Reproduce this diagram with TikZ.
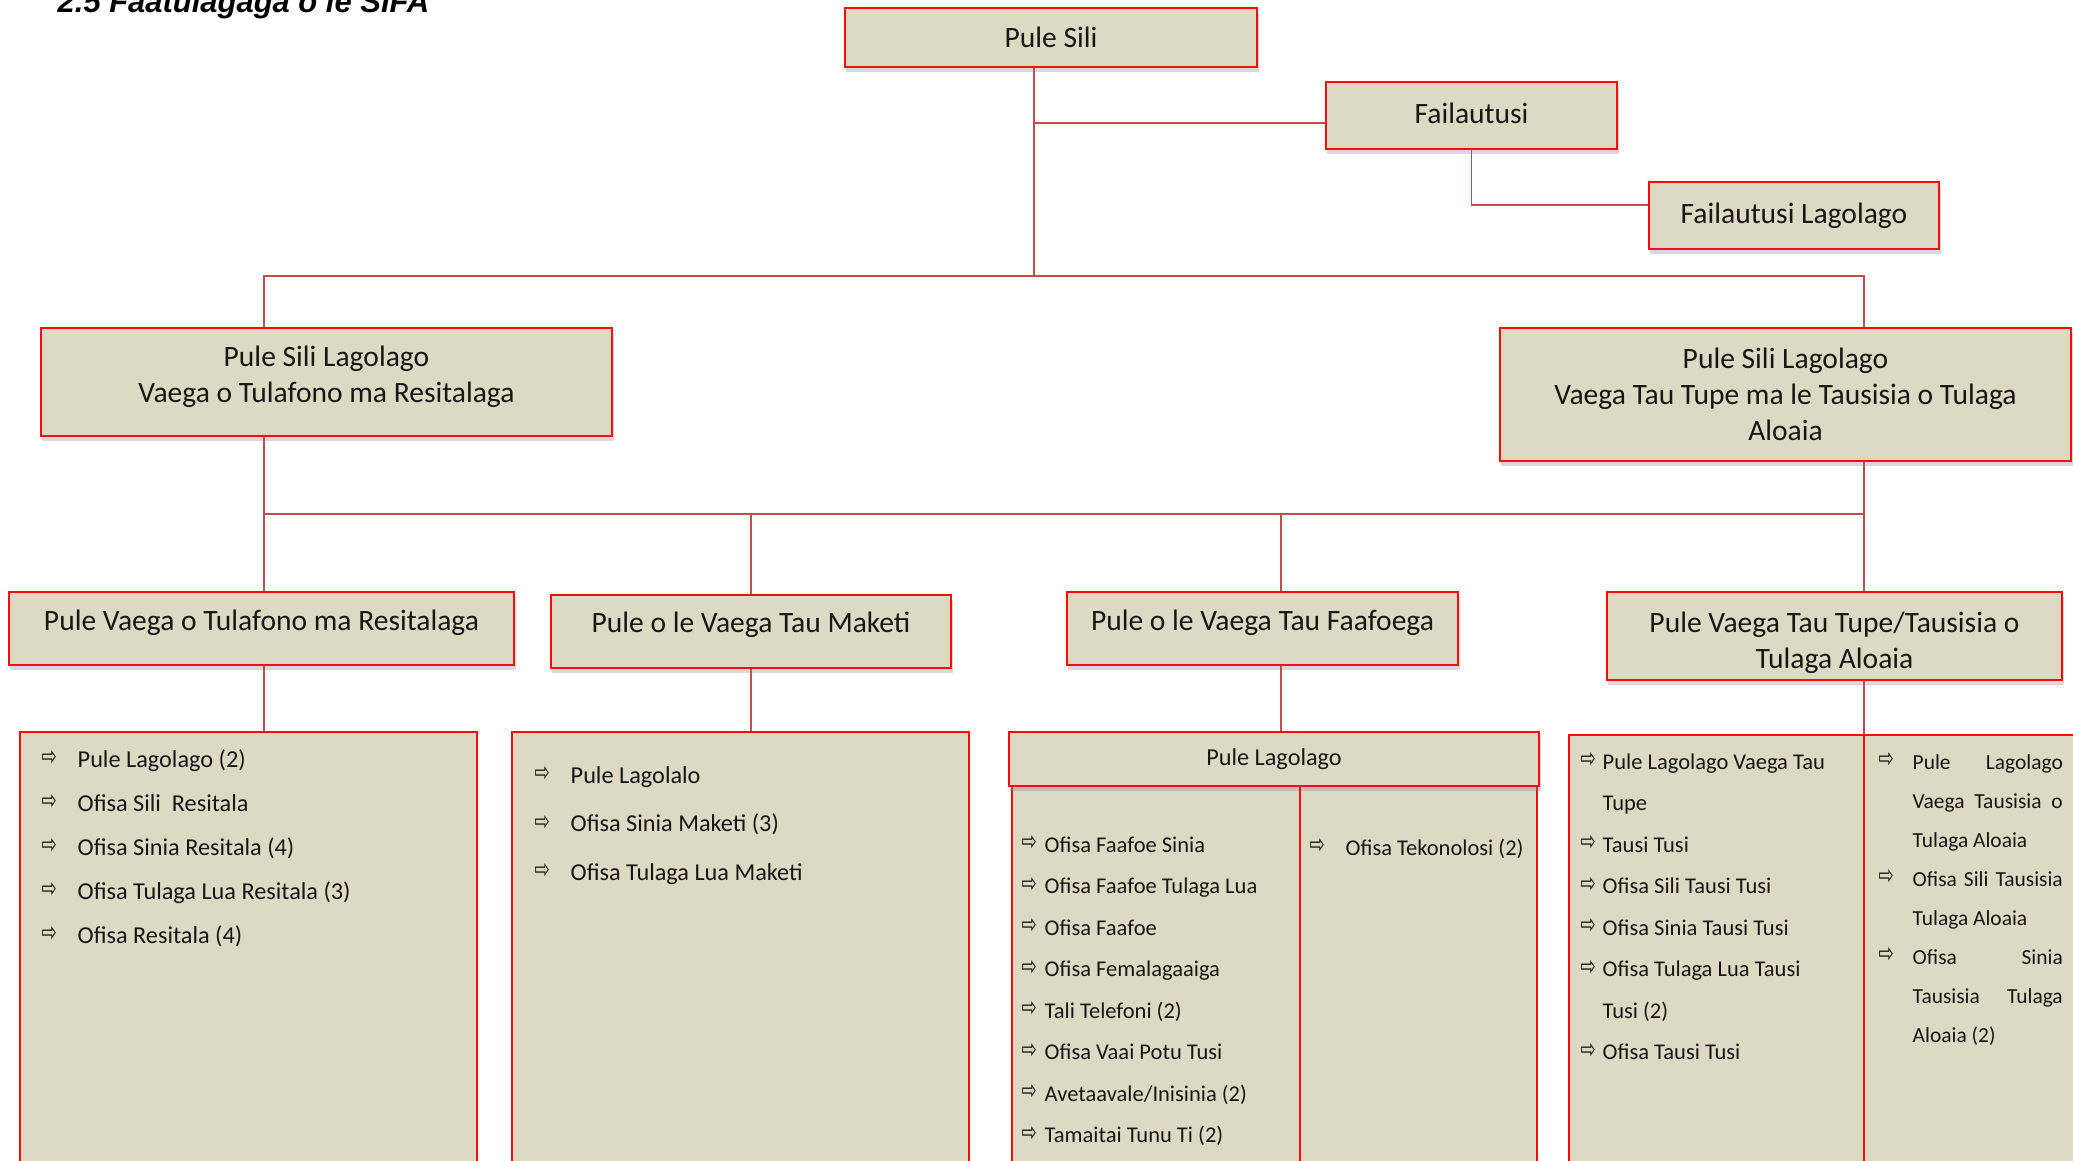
\documentclass[tikz,border=0pt]{standalone}
\usepackage{fontspec}
\usepackage{graphicx}
\setmainfont{Carlito}
\newfontfamily\arrowfont{DejaVu Sans}
\newfontfamily\headfont{Liberation Sans}
\usepackage{tikz}
\usetikzlibrary{positioning,calc,shadows}

\definecolor{boxfill}{RGB}{221,217,195}
\definecolor{boxline}{RGB}{250,12,12}
\definecolor{linkred}{RGB}{192,80,77}
\definecolor{ink}{RGB}{22,22,22}

\newcommand{\arr}{{\arrowfont\fontsize{7.6}{7.6}\selectfont\scalebox{0.68}[1]{⇨}}}

\begin{document}
\begin{tikzpicture}[x=0.01cm,y=-0.01cm,
  unit/.style={rectangle,draw=boxline,line width=0.6pt,fill=boxfill,text=ink,align=center,inner sep=0pt,
    font=\fontsize{8.4}{10.2}\selectfont,drop shadow={shadow xshift=0.4pt,shadow yshift=-1.4pt,opacity=0.3}},
  lifted/.style={text depth=#1},
  staff/.style={rectangle,draw=boxline,line width=0.5pt,fill=boxfill,anchor=north,inner sep=0pt},
  link/.style={draw=linkred,line width=0.4pt},
  divider/.style={draw=boxline,line width=0.45pt},
  item/.style={anchor=west,inner sep=0pt,text=ink,text height=1.5ex,text depth=.4ex,font=\fontsize{6.9}{8}\selectfont},
  small item/.style={item,font=\fontsize{6.4}{7.5}\selectfont},
  tiny item/.style={item,font=\fontsize{6.1}{7}\selectfont},
  arrowmark/.style={anchor=west,inner sep=0pt,text=ink}]
\useasboundingbox (0,0) rectangle (2073,1161);

\node[anchor=base west,inner sep=0pt,font=\headfont\bfseries\itshape\fontsize{8.8}{10}\selectfont] (title) at (57,13) {2.5 Faatulagaga o le SIFA};

% top of the chart
\node[unit,minimum width=4.12cm,minimum height=0.59cm] (sili) at (1051,37.5) {Pule Sili};
\node[unit,lifted=1.5pt,minimum width=2.91cm,minimum height=0.67cm] (fail) at (1471.5,115.5) {Failautusi};
\node[unit,minimum width=2.90cm,minimum height=0.67cm] (faillago) at (1794,215.5) {Failautusi Lagolago};

\node[unit,lifted=4.2pt,minimum width=5.71cm,minimum height=1.08cm] (lagoL) at (326.5,382) {Pule Sili Lagolago\\Vaega o Tulafono ma Resitalaga};
\node[unit,minimum width=5.71cm,minimum height=1.33cm] (lagoR) at (1785.5,394.5) {Pule Sili Lagolago\\Vaega Tau Tupe ma le Tausisia o Tulaga\\Aloaia};

% vaega
\node[unit,lifted=4.7pt,minimum width=5.05cm,minimum height=0.73cm] (tulafono) at (261.5,628.5) {Pule Vaega o Tulafono ma Resitalaga};
\node[unit,lifted=5.5pt,minimum width=4.00cm,minimum height=0.73cm] (maketi) at (751,631.5) {Pule o le Vaega Tau Maketi};
\node[unit,lifted=4.7pt,minimum width=3.91cm,minimum height=0.73cm] (faafoe) at (1262.5,628.5) {Pule o le Vaega Tau Faafoega};
\node[unit,minimum width=4.55cm,minimum height=0.88cm] (tupe) at (1834.5,636) {\rule{0pt}{9.7pt}Pule Vaega Tau Tupe/Tausisia o\\Tulaga Aloaia};

% staff boxes
\node[staff,minimum width=4.57cm,minimum height=4.44cm] (listT) at (248.5,731) {};
\node[staff,minimum width=4.57cm,minimum height=4.44cm] (listM) at (740.5,731) {};
\node[staff,minimum width=5.25cm,minimum height=3.90cm] (cols) at (1274.5,785) {};
\node[unit,anchor=north,minimum width=5.30cm,minimum height=0.54cm,font=\fontsize{6.9}{8}\selectfont] (lagolago) at (1274,731) {Pule Lagolago};
\node[staff,minimum width=5.11cm,minimum height=4.41cm] (listP) at (1824.5,734) {};

\coordinate (trunk) at (1034,276);
\coordinate (colL) at (264,276);
\coordinate (colR) at (1864,276);
\coordinate (busL) at (264,514);
\coordinate (busR) at (1864,514);
\coordinate (busF) at (1281,514);
\coordinate (split) at (1300,785);
\coordinate (failjoin) at ([yshift=-0.075cm]fail.west);
\coordinate (lagojoin) at ([yshift=0.105cm]faillago.west);

\draw[link] (sili.south -| trunk) -- (trunk);
\draw[link] (trunk |- failjoin) -- (failjoin);
\draw[link] (fail.south) |- (lagojoin);
\draw[link] (lagoL.north -| colL) -- (colL) -- (colR) -- (lagoR.north -| colR);
\draw[link] (lagoL.south -| busL) -- (tulafono.north -| busL);
\draw[link] (busL) -- (busR);
\draw[link] (lagoR.south -| busR) -- (tupe.north -| busR);
\draw[link] (busL -| maketi.north) -- (maketi.north);
\draw[link] (busF) -- (faafoe.north -| busF);
\draw[link] (tulafono.south -| busL) -- (listT.north -| busL);
\draw[link] (maketi.south) -- (listM.north -| maketi.south);
\draw[link] (faafoe.south -| busF) -- (lagolago.north -| busF);
\draw[link] (tupe.south -| busR) -- (listP.north -| busR);
\draw[divider] (listP.north -| busR) -- (listP.south -| busR);
\draw[divider] (split) -- (split |- cols.south);

% lists
\foreach \txt [count=\i] in {Pule Lagolago (2),Ofisa Sili~ Resitala,Ofisa Sinia Resitala (4),Ofisa Tulaga Lua Resitala (3),Ofisa Resitala (4)}{
  \node[arrowmark] (ta\i) at (41,{758+44*(\i-1)}) {\arr};
  \node[item] (tt\i) at (77,{758+44*(\i-1)}) {\txt};
}
\foreach \txt [count=\i] in {Pule Lagolalo,Ofisa Sinia Maketi (3),Ofisa Tulaga Lua Maketi}{
  \node[arrowmark] (ma\i) at (534,{774+48.5*(\i-1)}) {\arr};
  \node[item] (mt\i) at (570,{774+48.5*(\i-1)}) {\txt};
}
\foreach \txt [count=\i] in {Ofisa Faafoe Sinia,Ofisa Faafoe Tulaga Lua,Ofisa Faafoe,Ofisa Femalagaaiga,Tali Telefoni (2),Ofisa Vaai Potu Tusi,Avetaavale/Inisinia (2),Tamaitai Tunu Ti (2)}{
  \node[arrowmark] (fa\i) at (1021,{843+41.5*(\i-1)}) {\arr};
  \node[small item] (ft\i) at (1044,{843+41.5*(\i-1)}) {\txt};
}
\node[arrowmark] (ka1) at (1309,846) {\arr};
\node[small item] (kt1) at (1345,846) {Ofisa Tekonolosi (2)};
\foreach \txt/\mk [count=\i] in {Pule Lagolago Vaega Tau/1,Tupe/0,Tausi Tusi/1,Ofisa Sili Tausi Tusi/1,Ofisa Sinia Tausi Tusi/1,Ofisa Tulaga Lua Tausi/1,Tusi (2)/0,Ofisa Tausi Tusi/1}{
  \ifnum\mk=1 \node[arrowmark] (pa\i) at (1580,{760+41.5*(\i-1)}) {\arr};\fi
  \node[small item] (pt\i) at (1602,{760+41.5*(\i-1)}) {\txt};
}
\foreach \txt/\mk [count=\i] in {{\makebox[1.5cm][s]{Pule\hfill Lagolago}}/1,{\makebox[1.5cm][s]{Vaega Tausisia o}}/0,Tulaga Aloaia/0,{\makebox[1.5cm][s]{Ofisa Sili Tausisia}}/1,Tulaga Aloaia/0,{\makebox[1.5cm][s]{Ofisa\hfill Sinia}}/1,{\makebox[1.5cm][s]{Tausisia Tulaga}}/0,Aloaia (2)/0}{
  \ifnum\mk=1 \node[arrowmark] (sa\i) at (1878,{760+39*(\i-1)}) {\arr};\fi
  \node[tiny item] (st\i) at (1912,{760+39*(\i-1)}) {\txt};
}
\end{tikzpicture}
\end{document}
